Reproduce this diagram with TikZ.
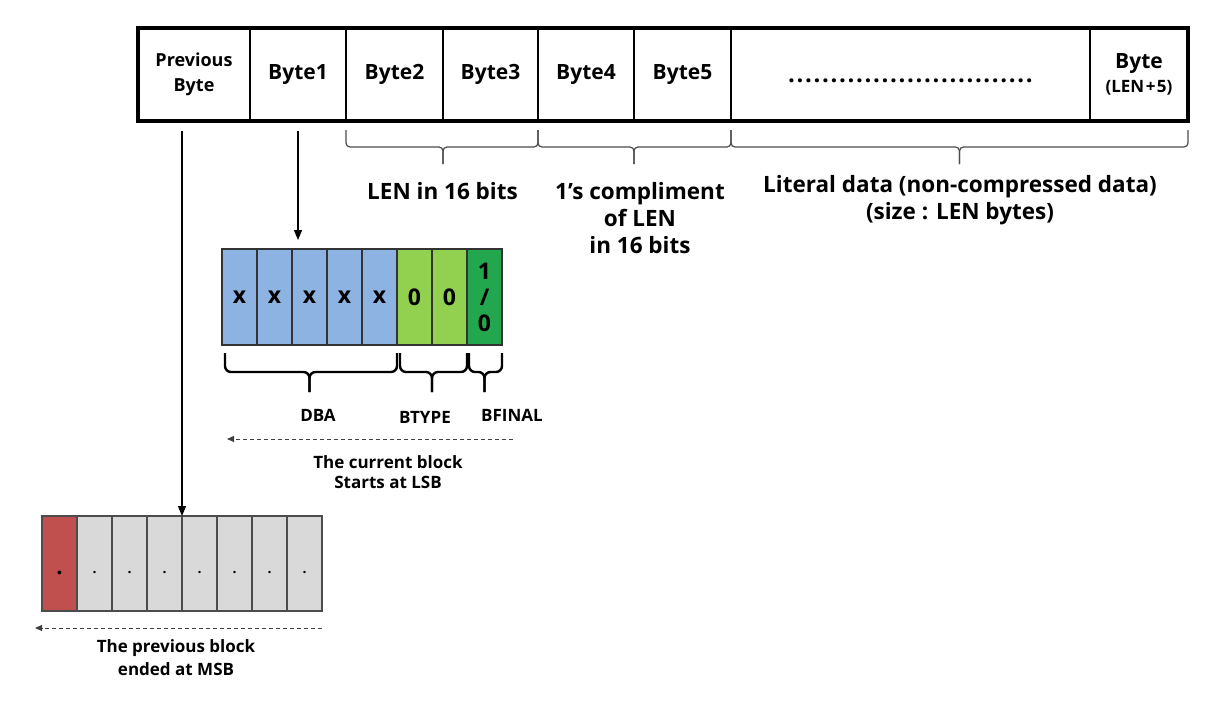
\documentclass[tikz,border=0pt]{standalone}
\usepackage{fontspec}
\setmainfont{Open Sans}
\usetikzlibrary{arrows.meta,calc}
\definecolor{bitblue}{HTML}{8DB3E2}
\definecolor{bitgreen}{HTML}{92D050}
\definecolor{bitdgreen}{HTML}{22A64E}
\definecolor{bitred}{HTML}{C0504D}
\definecolor{bitgray}{HTML}{D9D9D9}
\begin{document}
\begin{tikzpicture}[x=1pt,y=-1pt,
  cell/.style={draw=black, line width=2.5pt, minimum height=93, inner sep=0pt, outer sep=0pt,
    anchor=north west, align=center, font=\fontsize{21}{25}\selectfont\bfseries},
  bit/.style={draw=black!80, line width=1.2pt, minimum width=35, minimum height=96, inner sep=0pt,
    outer sep=0pt, anchor=north west, align=center, font=\fontsize{23}{26}\selectfont\bfseries},
  pbit/.style={draw=black!70, line width=1.2pt, minimum width=35, minimum height=95, inner sep=0pt,
    outer sep=0pt, anchor=north west, fill=bitgray},
  tbrace/.style={draw=black!70, line width=1.2pt, rounded corners=4pt},
  bbrace/.style={draw=black, line width=2.4pt, rounded corners=6pt},
  thinarr/.style={draw=black, line width=1.2pt, -{Triangle[length=10pt,width=8pt]}},
  dasharr/.style={draw=black!75, line width=1pt, dash pattern=on 4pt off 3pt, -{Triangle[length=7pt,width=6pt]}},
  toplbl/.style={align=center, font=\fontsize{22.5}{27}\selectfont\bfseries},
  lbl/.style={align=center, font=\fontsize{17}{20}\selectfont\bfseries},
  pdot/.style={anchor=base, inner sep=0pt, font=\fontsize{14}{14}\selectfont\bfseries}
]
\useasboundingbox[fill=white] (0,0) rectangle (1222,704);

% ---- top byte bar ----
\node[cell, minimum width=112, font=\fontsize{18}{25}\selectfont\bfseries] (prev) at (138,28) {Previous\\Byte};
\node[cell, minimum width=96] (b1) at (prev.north east) {Byte1};
\node[cell, minimum width=97] (b2) at (b1.north east) {Byte2};
\node[cell, minimum width=95] (b3) at (b2.north east) {Byte3};
\node[cell, minimum width=96] (b4) at (b3.north east) {Byte4};
\node[cell, minimum width=97] (b5) at (b4.north east) {Byte5};
\node[cell, minimum width=359, text height=15pt, text depth=0pt, font=\fontsize{24}{25}\selectfont\bfseries] (bdots) at (b5.north east)
  {\foreach \i in {1,...,29}{\makebox[8.5pt]{.}}};
\node[cell, minimum width=98] (blast) at (bdots.north east)
  {Byte\\[-1pt]{\fontsize{17}{20}\selectfont (LEN\kern1.5pt+\kern1.5pt5)}};
\draw[line width=3.5pt] (prev.north west) rectangle (blast.south east);

% ---- braces under the bar ----
\draw[tbrace] ($(b2.south west)+(0,9)$) |- ($(b2.south east)+(0,26)$) -- ++(0,17);
\draw[tbrace] ($(b3.south east)+(0,9)$) |- ($(b2.south east)+(0,26)$) -- ++(0,17);
\draw[tbrace] ($(b4.south west)+(0,9)$) |- ($(b4.south east)+(0,26)$) -- ++(0,17);
\draw[tbrace] ($(b5.south east)+(0,9)$) |- ($(b4.south east)+(0,26)$) -- ++(0,17);
\coordinate (litmid) at ($(bdots.south west)!0.5!(blast.south east)+(0,26)$);
\draw[tbrace] ($(bdots.south west)+(0,9)$) |- (litmid) -- ++(0,17);
\draw[tbrace] ($(blast.south east)+(0,9)$) |- (litmid) -- ++(0,17);

\node[toplbl] (lenlbl) at (442.5,191) {LEN in 16 bits};
\node[toplbl] (nlenlbl) at (640,218) {1’s compliment\\of LEN\\in 16 bits};
\node[toplbl] (litlbl) at (960,200) {Literal data (non-compressed data)\\(size : LEN bytes)};

% ---- current byte bits ----
\node[bit, fill=bitblue] (c1) at (222,249) {x};
\node[bit, fill=bitblue] (c2) at (c1.north east) {x};
\node[bit, fill=bitblue] (c3) at (c2.north east) {x};
\node[bit, fill=bitblue] (c4) at (c3.north east) {x};
\node[bit, fill=bitblue] (c5) at (c4.north east) {x};
\node[bit, fill=bitgreen] (c6) at (c5.north east) {0};
\node[bit, fill=bitgreen] (c7) at (c6.north east) {0};
\node[bit, fill=bitdgreen] (c8) at (c7.north east) {1\\/\\0};

\draw[thinarr] ($(b1.south)+(0,10)$) -- ($(b1.south|-c1.north)+(0,-9)$);

% braces under bits
\draw[bbrace] ($(c1.south west)+(3,8)$) |- ($(c1.south west)!0.5!(c5.south east)+(0,27)$) -- ++(0,20);
\draw[bbrace] ($(c5.south east)+(0,8)$) |- ($(c1.south west)!0.5!(c5.south east)+(0,27)$) -- ++(0,20);
\draw[bbrace] ($(c6.south west)+(3,8)$) |- ($(c6.south east)+(0,27)$) -- ++(0,20);
\draw[bbrace] ($(c7.south east)+(0,8)$) |- ($(c6.south east)+(0,27)$) -- ++(0,20);
\draw[bbrace] ($(c8.south west)+(2,8)$) |- ($(c8.south)+(0,27)$) -- ++(0,20);
\draw[bbrace] ($(c8.south east)+(0,8)$) |- ($(c8.south)+(0,27)$) -- ++(0,20);

\node[lbl] (dba) at (318,415) {DBA};
\node[lbl] (btype) at (425,417) {BTYPE};
\node[lbl] (bfinal) at (512,415) {BFINAL};

\coordinate (curS) at (513,439);
\coordinate (curE) at (227,439);
\draw[dasharr] (curS) -- (curE);
\node[lbl] (curtxt) at (388,472) {The current block\\Starts at LSB};

% ---- previous byte bits ----
\node[pbit, fill=bitred] (p1) at (42,516) {};
\node[pbit] (p2) at (p1.north east) {};
\node[pbit] (p3) at (p2.north east) {};
\node[pbit] (p4) at (p3.north east) {};
\node[pbit] (p5) at (p4.north east) {};
\node[pbit] (p6) at (p5.north east) {};
\node[pbit] (p7) at (p6.north east) {};
\node[pbit] (p8) at (p7.north east) {};
\node[pdot, font=\fontsize{22}{22}\selectfont\bfseries] (d1) at ($(p1.center)+(0,11)$) {.};
\foreach \k in {2,...,8}{\node[pdot] (d\k) at ($(p\k.center)+(0,10)$) {.};}

\draw[thinarr] ($(p4.north east|-prev.south)+(0,10)$) -- (p4.north east);

\coordinate (prvS) at (322,628);
\coordinate (prvE) at (35,628);
\draw[dasharr] (prvS) -- (prvE);
\node[lbl, font=\fontsize{17}{23}\selectfont\bfseries] (prvtxt) at (176,658) {The previous block\\ended at MSB};
\end{tikzpicture}
\end{document}
